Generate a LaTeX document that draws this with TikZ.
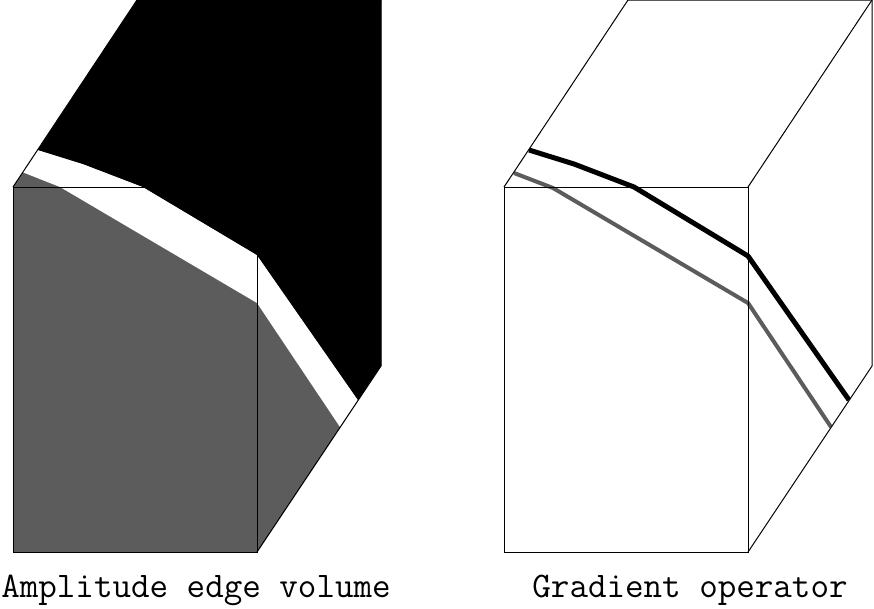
\documentclass[tikz,border=0pt]{standalone}
\usepackage{fontspec}
\definecolor{ampgrey}{gray}{0.36}
\begin{document}
\begin{tikzpicture}[x=1pt,y=-1pt,
	edge/.style={line width=1pt},
	horizon/.style={line width=5pt,line join=round},
	lowhorizon/.style={line width=4pt,ampgrey,line join=round},
	caption/.style={font=\fontsize{36}{40}\selectfont\ttfamily}]
	\useasboundingbox (0,0) rectangle (874,608);
	% amplitude volume
	\fill[ampgrey] (13,552) -- (13,187) -- (137,0) -- (381,0) -- (381,366) -- (257,552) -- cycle;
	\fill[white] (22,172) -- (60,187) -- (257,303) -- (340,427) -- (358,400) -- (257,255) -- (143,187) -- (83,164) -- (38,150) -- cycle;
	\fill[black] (38,150) -- (83,164) -- (143,187) -- (257,255) -- (358,400) -- (381,366) -- (381,0) -- (137,0) -- cycle;
	% gradient of it
	\draw[horizon] (529,150) -- (574,164) -- (634,187) -- (748,256) -- (849,400);
	\draw[lowhorizon] (514,173) -- (553,188) -- (748,303) -- (831,427);
	% cube edges
	\foreach \dx in {0,491} {
		\draw[edge] (13+\dx,187) rectangle (257+\dx,552);
		\draw[edge] (13+\dx,187) -- (137+\dx,0) -- (381+\dx,0) -- (381+\dx,366) -- (257+\dx,552);
		\draw[edge] (257+\dx,187) -- (381+\dx,0);
	}
	\node[caption] (amp) at (196,590) {Amplitude edge volume};
	\node[caption] (grad) at (690,590) {Gradient operator};
\end{tikzpicture}
\end{document}
